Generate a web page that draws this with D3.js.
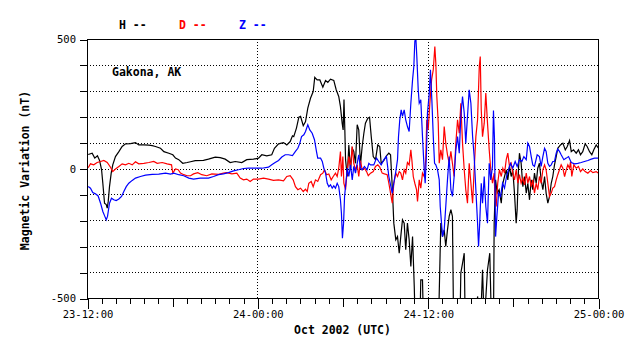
<!DOCTYPE html>
<html><head><meta charset="utf-8">
<script src="https://cdn.jsdelivr.net/npm/d3@7"></script>
<style>
body{margin:0;background:#fff;}
svg{display:block;}
text{font-family:"DejaVu Sans Mono","Liberation Mono",monospace;}
</style></head>
<body><svg id="chart" width="638" height="359"></svg>
<script>
// ---- data (hours since 23 Oct 12:00 UTC, nT) ----
const xTickHours = [0, 12, 24, 36];
const xTickLabels = ["23-12:00", "24-00:00", "24-12:00", "25-00:00"];
const yTicks = [-500,-400,-300,-200,-100,0,100,200,300,400,500];
const yLabelTicks = [-500, 0, 500];
const seriesNames = ["H", "D", "Z"];
const seriesColors = ["#000000", "#ff0000", "#0000ff"];

const dataH = [[0.05,56],[0.33,61],[0.51,42],[0.70,51],[0.85,33],[0.99,-2],[1.08,-55],[1.20,-132],[1.32,-137],[1.39,-151],[1.46,-125],[1.55,-68],[1.67,-16],[1.78,16],[1.97,48],[2.21,67],[2.44,87],[2.68,97],[3.03,98],[3.38,102],[3.61,93],[3.97,93],[4.32,92],[4.56,90],[4.79,87],[5.14,80],[5.38,67],[5.73,61],[6.01,55],[6.20,42],[6.43,36],[6.71,22],[7.02,25],[7.26,28],[7.59,32],[8.17,33],[8.52,38],[9.00,46],[9.35,44],[9.70,38],[10.05,25],[10.41,29],[10.87,25],[11.22,36],[11.69,38],[12.05,42],[12.28,55],[12.63,51],[12.98,55],[13.17,80],[13.46,97],[13.81,102],[14.04,93],[14.28,106],[14.44,128],[14.53,125],[14.72,158],[14.89,200],[15.01,203],[15.20,167],[15.36,183],[15.52,235],[15.71,273],[15.90,299],[16.01,354],[16.18,344],[16.37,344],[16.58,316],[16.77,342],[16.93,334],[17.12,347],[17.35,342],[17.52,306],[17.70,280],[17.82,241],[17.94,177],[18.01,151],[18.07,268],[18.13,150],[18.18,36],[18.30,-29],[18.41,93],[18.53,-3],[18.65,80],[18.76,68],[18.88,22],[19.00,171],[19.11,151],[19.23,16],[19.35,87],[19.47,138],[19.58,177],[19.75,196],[19.87,200],[19.99,125],[20.13,48],[20.29,36],[20.45,93],[20.59,87],[20.69,22],[20.88,33],[21.06,51],[21.23,61],[21.35,55],[21.47,-68],[21.58,-209],[21.72,-273],[21.84,-261],[21.96,-325],[22.07,-261],[22.19,-196],[22.31,-209],[22.42,-312],[22.54,-209],[22.66,-273],[22.78,-376],[22.90,-261],[23.02,-454],[23.09,-600],[23.42,-600],[23.48,-428],[23.60,-428],[23.67,-600],[24.73,-600],[24.89,-209],[25.01,-261],[25.13,-235],[25.24,-299],[25.36,-235],[25.48,-183],[25.60,-157],[25.71,-183],[25.79,-600],[26.24,-600],[26.30,-402],[26.42,-364],[26.54,-325],[26.61,-600],[27.36,-600],[27.48,-492],[27.69,-600],[27.83,-389],[27.95,-600],[28.18,-389],[28.34,-325],[28.46,-600],[28.60,-600],[28.65,-209],[28.75,-42],[28.86,-93],[29.00,-80],[29.15,-132],[29.26,-55],[29.38,-29],[29.50,-3],[29.61,-42],[29.73,10],[29.85,-29],[29.96,-3],[30.08,-93],[30.20,-209],[30.27,-157],[30.36,-3],[30.43,61],[30.55,22],[30.67,-68],[30.79,-29],[30.91,-93],[31.02,-55],[31.14,-119],[31.26,-42],[31.37,-80],[31.49,-16],[31.61,-55],[31.72,3],[31.84,22],[31.96,-42],[32.08,-80],[32.20,-29],[32.31,-93],[32.43,-132],[32.55,-106],[32.67,-55],[32.78,-29],[32.90,16],[33.02,48],[33.13,80],[33.32,93],[33.49,100],[33.66,74],[33.80,87],[33.96,110],[34.08,67],[34.24,74],[34.43,61],[34.59,74],[34.73,55],[34.89,67],[35.06,97],[35.20,87],[35.37,67],[35.53,55],[35.67,74],[35.84,93],[36.00,80]];

const dataD = [[0.05,5],[0.21,20],[0.44,16],[0.68,25],[0.92,29],[1.15,33],[1.39,25],[1.62,7],[1.78,-10],[1.97,0],[2.21,10],[2.44,20],[2.68,16],[2.91,22],[3.15,16],[3.38,28],[3.61,20],[3.97,22],[4.32,25],[4.67,29],[4.91,22],[5.26,25],[5.61,20],[5.92,16],[6.01,-16],[6.20,0],[6.39,-3],[6.55,-16],[6.78,-22],[7.02,-26],[7.26,-26],[7.47,-19],[7.77,-14],[8.05,-22],[8.40,-26],[8.76,-19],[9.23,-21],[9.58,-16],[9.81,-14],[10.17,-19],[10.52,-16],[10.76,-35],[10.99,-42],[11.22,-39],[11.46,-48],[11.69,-39],[12.05,-39],[12.40,-35],[12.75,-39],[13.10,-44],[13.46,-42],[13.81,-46],[14.04,-29],[14.28,-26],[14.49,-42],[14.65,-68],[14.82,-80],[15.01,-74],[15.20,-87],[15.36,-78],[15.48,-87],[15.59,-55],[15.76,-48],[15.90,-68],[16.06,-42],[16.22,-48],[16.42,-22],[16.58,-16],[16.70,-3],[16.84,-22],[17.00,-19],[17.17,-42],[17.31,-29],[17.47,-16],[17.59,-29],[17.70,3],[17.82,67],[17.89,-29],[17.99,48],[18.06,-55],[18.18,-80],[18.30,-3],[18.41,48],[18.53,3],[18.65,87],[18.76,22],[18.88,-3],[19.00,16],[19.11,-29],[19.23,32],[19.35,-3],[19.51,3],[19.66,-10],[19.78,-26],[19.94,-16],[20.13,-10],[20.29,10],[20.45,16],[20.59,7],[20.76,-16],[20.92,-19],[21.11,-22],[21.23,-55],[21.35,-93],[21.47,-132],[21.58,-55],[21.72,-16],[21.84,-29],[21.96,-10],[22.07,-16],[22.19,-42],[22.31,-3],[22.42,-16],[22.54,25],[22.66,16],[22.78,74],[22.85,36],[22.95,-29],[23.06,-55],[23.18,-80],[23.25,-125],[23.37,-42],[23.48,-74],[23.60,-16],[23.72,-29],[23.83,36],[23.90,190],[24.00,151],[24.12,254],[24.24,344],[24.36,383],[24.47,473],[24.54,408],[24.61,280],[24.71,177],[24.78,22],[24.89,74],[25.01,36],[25.13,164],[25.24,100],[25.36,55],[25.48,22],[25.60,68],[25.71,22],[25.83,-29],[25.95,100],[26.07,190],[26.19,138],[26.30,254],[26.42,100],[26.54,-3],[26.65,-80],[26.77,-132],[26.89,22],[27.01,-55],[27.13,-132],[27.24,-3],[27.36,125],[27.48,190],[27.60,396],[27.67,434],[27.74,228],[27.83,125],[27.95,177],[28.06,293],[28.18,177],[28.30,74],[28.41,-3],[28.53,-55],[28.65,-16],[28.70,-106],[28.79,-145],[28.90,-55],[29.02,-3],[29.15,-29],[29.26,3],[29.38,-16],[29.50,36],[29.61,61],[29.73,10],[29.85,22],[29.96,-16],[30.08,-42],[30.20,-3],[30.32,-55],[30.43,-22],[30.55,-55],[30.67,-35],[30.79,-61],[30.91,-16],[31.02,-55],[31.14,-29],[31.26,-68],[31.37,-42],[31.49,-93],[31.61,-55],[31.72,-80],[31.84,-29],[31.96,-55],[32.08,-3],[32.20,16],[32.31,-3],[32.43,-55],[32.55,-106],[32.67,-93],[32.78,-74],[32.90,-68],[33.02,-42],[33.13,-22],[33.25,-3],[33.37,16],[33.49,3],[33.61,-29],[33.73,-3],[33.84,16],[33.96,3],[34.03,29],[34.12,-29],[34.26,16],[34.43,3],[34.59,10],[34.73,-10],[34.89,0],[35.06,-10],[35.25,-16],[35.44,-6],[35.60,-14],[35.84,-10],[36.00,-16]];

const dataZ = [[0.05,-68],[0.21,-74],[0.37,-91],[0.56,-96],[0.75,-104],[0.92,-132],[1.08,-164],[1.22,-183],[1.32,-196],[1.41,-183],[1.55,-132],[1.69,-113],[1.85,-119],[2.02,-122],[2.21,-116],[2.40,-106],[2.56,-87],[2.73,-68],[2.91,-55],[3.15,-44],[3.38,-35],[3.73,-29],[4.09,-24],[4.56,-21],[5.02,-20],[5.50,-16],[5.85,-20],[6.08,-16],[6.43,-22],[6.78,-26],[7.14,-35],[7.47,-39],[7.94,-35],[8.52,-35],[8.88,-29],[9.23,-22],[9.58,-19],[9.93,-14],[10.29,-7],[10.64,-3],[10.99,2],[11.34,3],[11.81,3],[12.28,3],[12.75,7],[12.98,16],[13.22,25],[13.46,33],[13.69,46],[13.93,55],[14.16,55],[14.44,52],[14.65,68],[14.82,80],[14.96,100],[15.08,125],[15.24,132],[15.36,145],[15.52,171],[15.66,151],[15.83,138],[15.99,113],[16.13,68],[16.22,42],[16.42,42],[16.54,29],[16.65,3],[16.77,-16],[16.89,-55],[17.00,-68],[17.12,-61],[17.24,-74],[17.35,-65],[17.47,-74],[17.59,-55],[17.70,-68],[17.82,-119],[17.89,-171],[17.96,-267],[18.04,-209],[18.11,-106],[18.20,-55],[18.30,3],[18.41,-29],[18.53,16],[18.65,-42],[18.76,10],[18.88,-16],[19.00,22],[19.11,55],[19.23,3],[19.35,-3],[19.51,10],[19.70,-3],[19.82,22],[19.94,16],[20.17,16],[20.36,42],[20.52,29],[20.69,16],[20.88,36],[21.06,48],[21.23,-29],[21.35,-61],[21.47,-93],[21.58,-55],[21.72,-10],[21.84,36],[21.91,125],[22.00,190],[22.10,228],[22.19,203],[22.31,228],[22.42,190],[22.54,164],[22.66,145],[22.78,254],[22.90,344],[22.99,396],[23.06,492],[23.13,510],[23.20,434],[23.30,306],[23.37,254],[23.48,267],[23.60,125],[23.72,-3],[23.79,-55],[23.88,61],[23.95,216],[24.07,287],[24.16,383],[24.26,267],[24.36,125],[24.45,22],[24.54,16],[24.66,-3],[24.78,-42],[24.85,-145],[24.94,-209],[25.01,-261],[25.13,-235],[25.24,-145],[25.36,-42],[25.48,48],[25.60,-80],[25.71,-106],[25.83,-29],[25.95,74],[26.07,125],[26.19,61],[26.30,203],[26.42,280],[26.54,216],[26.65,100],[26.77,203],[26.89,306],[27.01,254],[27.13,125],[27.24,48],[27.36,-80],[27.48,-209],[27.55,-299],[27.63,-209],[27.74,-55],[27.83,-132],[27.95,-29],[28.06,-145],[28.18,-209],[28.30,22],[28.41,-42],[28.53,10],[28.60,226],[28.67,120],[28.75,-261],[28.84,-183],[28.96,-93],[29.10,-106],[29.24,-55],[29.38,-74],[29.52,-29],[29.66,-3],[29.80,22],[29.96,3],[30.13,29],[30.27,10],[30.43,36],[30.60,29],[30.74,48],[30.91,36],[31.02,100],[31.14,87],[31.26,48],[31.37,16],[31.49,10],[31.68,55],[31.84,48],[31.96,10],[32.08,48],[32.20,80],[32.31,68],[32.43,22],[32.55,10],[32.67,16],[32.78,29],[32.90,29],[33.02,61],[33.13,77],[33.25,68],[33.37,55],[33.56,36],[33.73,42],[33.89,48],[34.08,25],[34.31,20],[34.54,22],[34.78,25],[35.01,29],[35.25,33],[35.49,38],[35.72,42],[36.00,42]];

const seriesData = [dataH, dataD, dataZ];

// ---- layout ----
const L = 87, R = 598, T = 39, B = 298;
const svg = d3.select("#chart");
const x = d3.scaleLinear().domain([0, 36]).range([L + 0.5, R + 0.5]);
const y = d3.scaleLinear().domain([-500, 500]).range([B + 0.5, T + 0.5]);

svg.append("defs").append("clipPath").attr("id", "clip")
  .append("rect").attr("x", L).attr("y", T).attr("width", R - L + 1).attr("height", B - T + 1);

// dotted grid
const grid = svg.append("g").attr("stroke", "#000").attr("stroke-dasharray", "1,2")
  .attr("shape-rendering", "crispEdges");
grid.selectAll("line.h").data(yTicks.filter(v => v > -500 && v < 500)).enter().append("line")
  .attr("x1", L).attr("x2", R).attr("y1", d => y(d)).attr("y2", d => y(d));
grid.selectAll("line.v").data([12, 24]).enter().append("line")
  .attr("y1", T).attr("y2", B).attr("x1", d => x(d)).attr("x2", d => x(d));

// series
const line = d3.line().x(d => x(d[0])).y(d => y(d[1]));
const plot = svg.append("g").attr("clip-path", "url(#clip)");
seriesData.forEach((s, i) => {
  plot.append("path").datum(s).attr("d", line).attr("fill", "none")
    .attr("stroke", seriesColors[i]).attr("stroke-width", 1.2);
});

// frame
svg.append("rect").attr("x", L + 0.5).attr("y", T + 0.5).attr("width", R - L).attr("height", B - T)
  .attr("fill", "none").attr("stroke", "#000").attr("shape-rendering", "crispEdges");

// y axis
const yAxis = d3.axisLeft(y).tickValues(yTicks).tickSize(8).tickPadding(3)
  .tickFormat(d => yLabelTicks.includes(d) ? String(d) : "");
const gy = svg.append("g").attr("transform", `translate(${L},0)`).call(yAxis);
gy.select(".domain").remove();
gy.selectAll(".tick line").attr("shape-rendering", "crispEdges").attr("x1", 0.5).attr("x2", -7.5);
gy.selectAll(".tick text").attr("font-size", "10.5px").attr("font-family", '"DejaVu Sans Mono",monospace').attr("fill", "#000");

// x axis
const xAxis = d3.axisBottom(x).tickValues(d3.range(0, 37)).tickSize(5).tickPadding(6)
  .tickFormat(d => { const k = xTickHours.indexOf(d); return k >= 0 ? xTickLabels[k] : ""; });
const gx = svg.append("g").attr("transform", `translate(0,${B})`).call(xAxis);
gx.select(".domain").remove();
gx.selectAll(".tick line").attr("shape-rendering", "crispEdges")
  .attr("y1", 0.5)
  .attr("y2", d => d % 12 === 0 ? 11 : (d % 6 === 0 ? 9 : 6));
gx.selectAll(".tick text").attr("font-size", "10.5px").attr("font-family", '"DejaVu Sans Mono",monospace').attr("fill", "#000")
  .attr("dy", "0.71em").attr("y", 13);

// axis titles
svg.append("text").attr("x", (L + R) / 2).attr("y", 334).attr("text-anchor", "middle")
  .attr("font-size", "11.5px").attr("font-weight", "bold").text("Oct 2002 (UTC)");
svg.append("text").attr("transform", `translate(29,${(T + B) / 2 + 2}) rotate(-90)`)
  .attr("text-anchor", "middle").attr("font-size", "11.5px").attr("font-weight", "bold")
  .text("Magnetic Variation (nT)");

// station label
svg.append("text").attr("x", 112).attr("y", 76).attr("font-size", "11.5px").attr("font-weight", "bold")
  .text("Gakona, AK");

// legend
const legX = [119, 179, 239];
seriesNames.forEach((n, i) => {
  svg.append("text").attr("x", legX[i]).attr("y", 29).attr("font-size", "11.5px").attr("font-weight", "bold")
    .attr("fill", seriesColors[i]).text(n + " --");
});
</script></body></html>
